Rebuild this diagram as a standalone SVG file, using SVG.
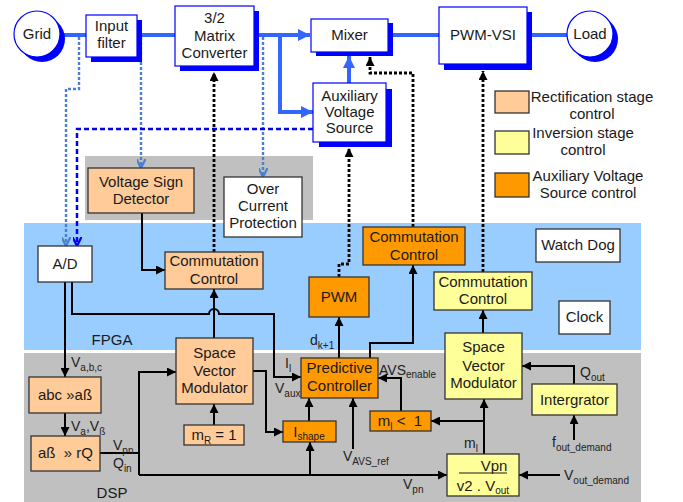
<svg xmlns="http://www.w3.org/2000/svg" width="683" height="502" viewBox="0 0 683 502">
<style>
text{font-family:"Liberation Sans",Arial,sans-serif;font-size:15px;fill:#1a1a1a;text-anchor:middle}
.lb{font-size:14px;text-anchor:start;fill:#222}
.sb{font-size:10px}
.top{fill:#fff;stroke:#0000ff;stroke-width:1.2}
.sh{fill:#0000ff}
.pe{fill:#ffcc99;stroke:#333;stroke-width:1.3}
.ye{fill:#ffff99;stroke:#333;stroke-width:1.3}
.or{fill:#ff9900;stroke:#333;stroke-width:1.3}
.wh{fill:#fff;stroke:#333;stroke-width:1.3}
.bl{fill:none;stroke:#3366ff;stroke-width:4}
.k{fill:none;stroke:#000;stroke-width:2}
.kd{fill:none;stroke:#000;stroke-width:2.8;stroke-dasharray:3 2}
.lbd{fill:none;stroke:#4a7fd4;stroke-width:2.4;stroke-dasharray:3 2}
.dbd{fill:none;stroke:#0000ee;stroke-width:2.5;stroke-dasharray:5 3}
</style>
<defs>
<marker id="ak" viewBox="0 0 10 10" refX="10" refY="5" markerWidth="11" markerHeight="9" markerUnits="userSpaceOnUse" orient="auto"><path d="M0,0L10,5L0,10z" fill="#000"/></marker>
<marker id="ab" viewBox="0 0 10 10" refX="10" refY="5" markerWidth="16" markerHeight="12" markerUnits="userSpaceOnUse" orient="auto"><path d="M0,0L10,5L0,10z" fill="#3366ff"/></marker>
<marker id="alb" viewBox="0 0 10 10" refX="10" refY="5" markerWidth="9" markerHeight="9" markerUnits="userSpaceOnUse" orient="auto"><path d="M0,0L10,5L0,10" fill="none" stroke="#4a7fd4" stroke-width="2.5"/></marker>
<marker id="adb" viewBox="0 0 10 10" refX="10" refY="5" markerWidth="9" markerHeight="9" markerUnits="userSpaceOnUse" orient="auto"><path d="M0,0L10,5L0,10" fill="none" stroke="#0000ee" stroke-width="2.5"/></marker>
</defs>

<!-- regions -->
<rect x="85" y="156" width="228" height="64" fill="#c0c0c0"/>
<rect x="24" y="223" width="617" height="127" fill="#99ccff"/>
<rect x="24" y="353" width="617" height="149" fill="#c0c0c0"/>
<text x="112" y="345">FPGA</text>
<text x="112" y="498">DSP</text>

<g id="connectors">
<path class="bl" d="M60,35H86"/>
<path class="bl" d="M137,35H175"/>
<path class="bl" d="M254,35H310" marker-end="url(#ab)"/>
<path class="bl" d="M280,35V112H313" marker-end="url(#ab)"/>
<path class="bl" d="M349,83V56" marker-end="url(#ab)"/>
<path class="bl" d="M388,35H439"/>
<path class="bl" d="M527,35H567"/>

<path class="lbd" d="M79,37V89H66V246" marker-end="url(#alb)"/>
<path class="lbd" d="M141,37V168" marker-end="url(#alb)"/>
<path class="lbd" d="M263,37V177" marker-end="url(#alb)"/>
<path class="dbd" d="M313,129H77V246" marker-end="url(#adb)"/>

<path class="kd" d="M214,252V72" marker-end="url(#ak)"/>
<path class="kd" d="M339,277V264H349V148" marker-end="url(#ak)"/>
<path class="kd" d="M413,227V73H370V57" marker-end="url(#ak)"/>
<path class="kd" d="M483,272V71" marker-end="url(#ak)"/>

<path class="k" d="M142,213V270H165" marker-end="url(#ak)"/>
<path class="k" d="M72,282V314H209A5,5 0 0 1 219,314H274V377H301" marker-end="url(#ak)"/>
<path class="k" d="M214,338V289" marker-end="url(#ak)"/>
<path class="k" d="M214,425V404" marker-end="url(#ak)"/>
<path class="k" d="M253,371H266V432H283" marker-end="url(#ak)"/>
<path class="k" d="M65,282V377" marker-end="url(#ak)"/>
<path class="k" d="M65,413V436" marker-end="url(#ak)"/>
<path class="k" d="M100,453H139"/>
<path class="k" d="M139,475V372H176" marker-end="url(#ak)"/>
<path class="k" d="M139,475H447" marker-end="url(#ak)"/>
<path class="k" d="M310,475V442" marker-end="url(#ak)"/>
<path class="k" d="M309,421V398" marker-end="url(#ak)"/>
<path class="k" d="M353,449V398" marker-end="url(#ak)"/>
<path class="k" d="M401,411V378H378" marker-end="url(#ak)"/>
<path class="k" d="M484,454V399" marker-end="url(#ak)"/>
<path class="k" d="M484,421H431" marker-end="url(#ak)"/>
<path class="k" d="M560,475H519" marker-end="url(#ak)"/>
<path class="k" d="M574,440V415" marker-end="url(#ak)"/>
<path class="k" d="M574,384V366H522" marker-end="url(#ak)"/>
<path class="k" d="M483,333V310" marker-end="url(#ak)"/>
<path class="k" d="M339,358V317" marker-end="url(#ak)"/>
<path class="k" d="M370,358V343H413V265" marker-end="url(#ak)"/>

<text class="lb" x="71" y="367">V<tspan class="sb" dy="4">a,b,c</tspan></text>
<text class="lb" x="71" y="431">V<tspan class="sb" dy="4">a</tspan><tspan dy="-4">,V</tspan><tspan class="sb" dy="4">ß</tspan></text>
<text class="lb" x="113" y="450">V<tspan class="sb" dy="4">pn</tspan></text>
<text class="lb" x="113" y="468">Q<tspan class="sb" dy="4">in</tspan></text>
<text class="lb" x="403" y="489">V<tspan class="sb" dy="4">pn</tspan></text>
<text class="lb" x="343" y="461">V<tspan class="sb" dy="4">AVS_ref</tspan></text>
<text class="lb" x="379" y="375">AVS<tspan class="sb" dy="3">enable</tspan></text>
<text class="lb" x="285" y="368">I<tspan class="sb" dy="4">l</tspan></text>
<text class="lb" x="275" y="393">V<tspan class="sb" dy="4">aux</tspan></text>
<text class="lb" x="310" y="345">d<tspan class="sb" dy="4">k+1</tspan></text>
<text class="lb" x="464" y="448">m<tspan class="sb" dy="4">l</tspan></text>
<text class="lb" x="580" y="377">Q<tspan class="sb" dy="4">out</tspan></text>
<text class="lb" x="552" y="447">f<tspan class="sb" dy="4">out_demand</tspan></text>
<text class="lb" x="564" y="480">V<tspan class="sb" dy="4">out_demand</tspan></text>
</g>

<g id="grid"><circle cx="42" cy="39" r="23" class="sh"/><circle cx="37" cy="34" r="23" class="top"/><text x="37" y="39">Grid</text></g>
<g id="input-filter"><rect x="91" y="20" width="51" height="42" class="sh"/><rect x="86" y="15" width="51" height="42" class="top"/><text x="111.5" y="31">Input</text><text x="111.5" y="48">filter</text></g>
<g id="matrix"><rect x="180" y="11" width="79" height="60" class="sh"/><rect x="175" y="6" width="79" height="60" class="top"/><text x="214.5" y="23">3/2</text><text x="214.5" y="41">Matrix</text><text x="214.5" y="58">Converter</text></g>
<g id="mixer"><rect x="316" y="23" width="77" height="33" class="sh"/><rect x="311" y="19" width="77" height="33" class="top"/><text x="349.5" y="40">Mixer</text></g>
<g id="aux"><rect x="319" y="89" width="73" height="58" class="sh"/><rect x="313" y="83" width="73" height="59" class="top"/><text x="349.5" y="101">Auxiliary</text><text x="349.5" y="117">Voltage</text><text x="349.5" y="133">Source</text></g>
<g id="pwm-vsi"><rect x="444" y="12" width="88" height="58" class="sh"/><rect x="439" y="7" width="88" height="57" class="top"/><text x="483" y="40">PWM-VSI</text></g>
<g id="load"><circle cx="595" cy="39" r="23" class="sh"/><circle cx="590" cy="34" r="23" class="top"/><text x="590" y="39">Load</text></g>

<g id="legend">
<rect x="495" y="91" width="34" height="22" class="pe"/><text x="592" y="102">Rectification stage</text><text x="592" y="119">control</text>
<rect x="495" y="131" width="34" height="23" class="ye"/><text x="583" y="138">Inversion stage</text><text x="583" y="155">control</text>
<rect x="495" y="173" width="34" height="24" class="or"/><text x="588" y="181">Auxiliary Voltage</text><text x="588" y="198">Source control</text>
</g>

<g id="vsd"><rect x="88" y="168" width="106" height="45" class="pe"/><text x="141" y="187">Voltage Sign</text><text x="141" y="204">Detector</text></g>
<g id="ocp"><rect x="224" y="177" width="78" height="60" class="wh"/><text x="263" y="194">Over</text><text x="263" y="211">Current</text><text x="263" y="228">Protection</text></g>
<g id="ad"><rect x="38" y="246" width="54" height="36" class="wh"/><text x="65" y="269">A/D</text></g>
<g id="comm-rect"><rect x="165" y="252" width="98" height="37" class="pe"/><text x="214" y="266">Commutation</text><text x="214" y="284">Control</text></g>
<g id="comm-aux"><rect x="363" y="227" width="102" height="38" class="or"/><text x="414" y="242">Commutation</text><text x="414" y="260">Control</text></g>
<g id="pwm"><rect x="309" y="277" width="60" height="40" class="or"/><text x="339" y="302">PWM</text></g>
<g id="comm-inv"><rect x="434" y="272" width="98" height="38" class="ye"/><text x="483" y="287">Commutation</text><text x="483" y="304">Control</text></g>
<g id="watchdog"><rect x="536" y="229" width="84" height="33" class="wh"/><text x="578" y="250">Watch Dog</text></g>
<g id="clock"><rect x="559" y="301" width="51" height="33" class="wh"/><text x="584.5" y="322">Clock</text></g>

<g id="svm-rect"><rect x="176" y="338" width="77" height="66" class="pe"/><text x="214.5" y="358">Space</text><text x="214.5" y="376">Vector</text><text x="214.5" y="393">Modulator</text></g>
<g id="mr"><rect x="184" y="425" width="60" height="20" class="pe"/><text x="214" y="440">m<tspan class="sb" dy="4">R</tspan><tspan dy="-4"> = 1</tspan></text></g>
<g id="abc"><rect x="29" y="377" width="72" height="36" class="pe"/><text x="65" y="400">abc »aß</text></g>
<g id="ab-rq"><rect x="31" y="436" width="69" height="35" class="pe"/><text x="65.5" y="458">aß&#160; » rQ</text></g>
<g id="predictive"><rect x="301" y="358" width="77" height="40" class="or"/><text x="339.5" y="373">Predictive</text><text x="339.5" y="391">Controller</text></g>
<g id="ishape"><rect x="283" y="421" width="53" height="21" class="or"/><text x="309" y="437">I<tspan class="sb" dy="3">shape</tspan></text></g>
<g id="mi"><rect x="370" y="411" width="61" height="20" class="or"/><text x="400" y="426">m<tspan class="sb" dy="4">l</tspan><tspan dy="-4"> &lt;&#160; 1</tspan></text></g>
<g id="svm-inv"><rect x="445" y="333" width="77" height="66" class="ye"/><text x="483.5" y="352">Space</text><text x="483.5" y="371">Vector</text><text x="483.5" y="388">Modulator</text></g>
<g id="integrator"><rect x="532" y="384" width="85" height="31" class="ye"/><text x="574.5" y="405">Intergrator</text></g>
<g id="ratio"><rect x="447" y="454" width="72" height="42" class="ye"/><text x="494" y="471">Vpn</text><line x1="459" y1="473" x2="507" y2="473" stroke="#1a1a1a" stroke-width="1.2"/><text x="483" y="491">v2 . V<tspan class="sb" dy="3">out</tspan></text></g>
</svg>
